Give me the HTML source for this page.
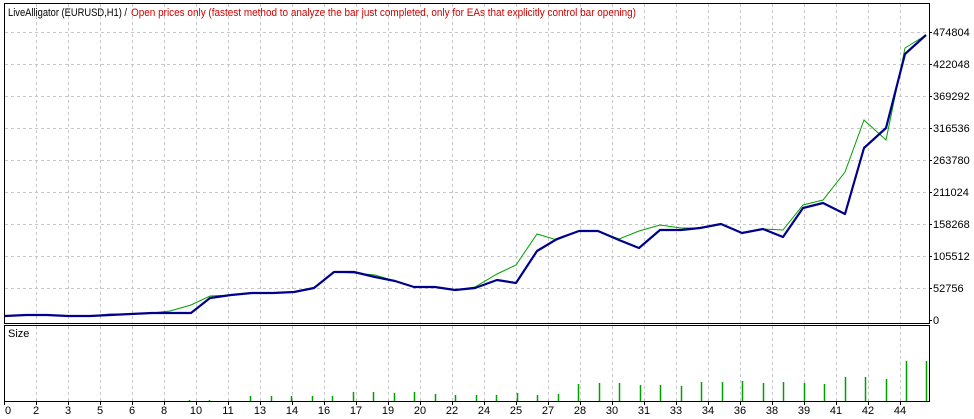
<!DOCTYPE html>
<html><head><style>html,body{margin:0;padding:0;background:#fff}svg{display:block}</style></head><body>
<svg width="974" height="419" xmlns="http://www.w3.org/2000/svg" font-family="'Liberation Sans',sans-serif" font-size="11">
<rect width="974" height="419" fill="#fff"/>
<g stroke="#c8c8c8" stroke-dasharray="3,3" stroke-width="1" id="g"></g>
<g id="main"></g>
<rect x="4.5" y="3.5" width="925" height="320" fill="none" stroke="#000"/>
<rect x="4.5" y="325.5" width="925" height="76" fill="none" stroke="#000"/>
<text x="8" y="16" fill="#000" textLength="119" lengthAdjust="spacingAndGlyphs">LiveAlligator (EURUSD,H1) /</text>
<text x="131" y="16" fill="#d00000" textLength="505" lengthAdjust="spacingAndGlyphs">Open prices only (fastest method to analyze the bar just completed, only for EAs that explicitly control bar opening)</text>
<text x="8" y="337" fill="#000">Size</text>
<g id="ax" fill="#000"></g>
</svg>
<script>
var ns="http://www.w3.org/2000/svg";
function el(p,t,a,txt){var e=document.createElementNS(ns,t);for(var k in a)e.setAttribute(k,a[k]);if(txt!=null)e.textContent=txt;document.getElementById(p).appendChild(e);return e;}
for(var k=1;k<=28;k++){var x=4.5+32*k;el('g','line',{x1:x,y1:4,x2:x,y2:323});el('g','line',{x1:x,y1:326,x2:x,y2:401});}
for(var j=0;j<9;j++){var y=32.5+32*j;el('g','line',{x1:5,y1:y,x2:929,y2:y});}
var vals=["474804","422048","369292","316536","263780","211024","158268","105512","52756","0"];
for(var j=0;j<10;j++){el('ax','text',{x:933,y:36+32*j},vals[j]);el('ax','line',{x1:929,y1:32.5+32*j,x2:932,y2:32.5+32*j,stroke:"#000"});}
var lb=[0,2,3,5,6,8,10,11,13,14,16,17,19,20,22,24,25,27,28,30,31,33,34,36,38,39,41,42,44];
for(var k=0;k<lb.length;k++){var x=4+32*k;el('ax','text',{x:x+(k==0?1:0),y:414,'text-anchor':k==0?'start':'middle'},""+lb[k]);el('ax','line',{x1:x+0.5,y1:401,x2:x+0.5,y2:405,stroke:"#000"});}
var blue=[[5,316],[26,315],[47,315],[68,316],[90,316],[110,315],[131,314],[152,313],[170,313],[191,313],[210,298],[231,295],[252,293],[273,293],[294,292],[314,288],[334,272],[354,272],[375,277],[395,281],[414,287],[435,287],[455,290],[475,288],[497,280],[516,283],[537,251],[557,239],[579,231],[598,231],[619,240],[639,248],[660,230],[681,230],[700,228],[721,224],[742,233],[763,229],[783,237],[803,208],[823,203],[845,214],[864,148],[886,128],[905,54],[926,35]];
var green=blue.map(function(p){return p.slice();});
var over={8:311,9:305,10:296,23:287,24:274,25:265,26:234,27:240,30:239,31:231,32:225,33:228,38:230,39:205,40:200,41:172,42:120,43:140,44:48,45:35,17:273,18:275,5:314};
for(var i in over)green[i][1]=over[i];
el('main','polyline',{points:green.join(' '),fill:'none',stroke:'#00a000','stroke-width':1});
el('main','polyline',{points:blue.join(' '),fill:'none',stroke:'#00008b','stroke-width':2.2,'stroke-linejoin':'round'});
var bars=[[189,1],[209,1],[250,5],[271,5],[291,5],[312,5],[332,5],[353,9],[373,9],[394,8],[414,9],[435,7],[455,6],[476,6],[496,6],[517,8],[537,6],[558,7],[578,17],[599,18],[619,18],[640,16],[660,16],[681,15],[701,19],[722,19],[742,20],[763,18],[783,19],[804,18],[824,17],[845,24],[865,24],[886,22],[906,40],[926,40]];
bars.forEach(function(b){el('main','line',{x1:b[0]+0.5,y1:401,x2:b[0]+0.5,y2:401-b[1],stroke:'#00a000','stroke-width':1.5});});
</script>
</body></html>
